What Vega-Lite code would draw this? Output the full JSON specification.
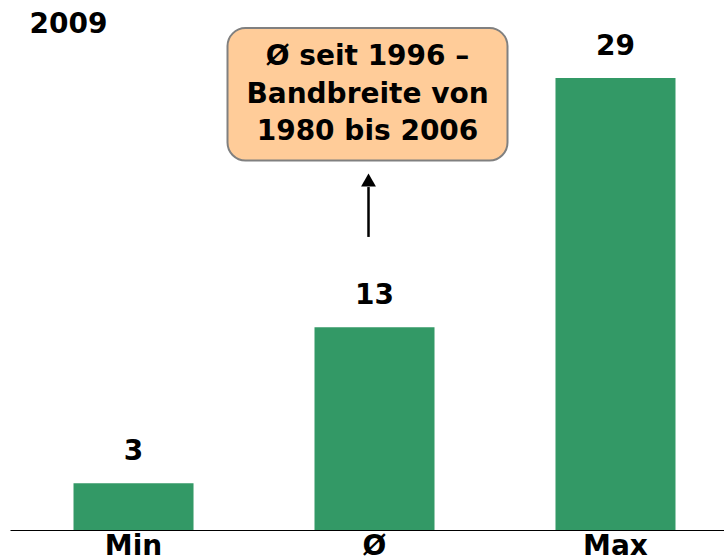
{
  "$schema": "https://vega.github.io/schema/vega-lite/v6.json",
  "autosize": {"type": "none"},
  "width": 714,
  "height": 530,
  "padding": {"left": 10, "top": 0, "right": 0, "bottom": 30},
  "background": "white",
  "config": {
    "view": {"stroke": null},
    "font": "DejaVu Sans",
    "text": {"font": "DejaVu Sans", "fontWeight": "bold", "fontSize": 28, "color": "black"}
  },
  "datasets": {
    "bars": [
      {"cat": "Min", "value": 3},
      {"cat": "Ø", "value": 13},
      {"cat": "Max", "value": 29}
    ],
    "note": [
      {"cat": "Ø", "top": 32.2, "bottom": 23.7}
    ],
    "noteLines": [
      {"cat": "Ø", "pos": 30.34, "line": "Ø seit 1996 –"},
      {"cat": "Ø", "pos": 27.9, "line": "Bandbreite von"},
      {"cat": "Ø", "pos": 25.53, "line": "1980 bis 2006"}
    ],
    "arrow": [
      {"cat": "Ø", "from": 18.8, "to": 22.0, "tip": 22.45}
    ],
    "year": [
      {"cat": "Min", "pos": 32.4, "label": "2009"}
    ]
  },
  "encoding": {
    "x": {
      "field": "cat",
      "type": "nominal",
      "sort": ["Min", "Ø", "Max"],
      "scale": {"paddingInner": 0.502, "paddingOuter": 0.2324, "align": 0.567},
      "axis": {
        "title": null,
        "ticks": false,
        "labelAngle": 0,
        "labelFont": "DejaVu Sans",
        "labelFontWeight": "bold",
        "labelFontSize": 28,
        "labelColor": "black",
        "labelPadding": 2,
        "labelBaseline": "top",
        "domainColor": "black",
        "domainWidth": 1.2,
        "grid": false
      }
    }
  },
  "layer": [
    {
      "data": {"name": "bars"},
      "mark": {"type": "bar", "color": "#339966"},
      "encoding": {
        "y": {"field": "value", "type": "quantitative", "scale": {"domain": [0, 34], "nice": false}, "axis": null}
      }
    },
    {
      "data": {"name": "bars"},
      "mark": {"type": "text", "baseline": "middle", "dy": -31},
      "encoding": {
        "y": {"field": "value", "type": "quantitative"},
        "text": {"field": "value", "type": "quantitative"}
      }
    },
    {
      "data": {"name": "note"},
      "mark": {"type": "bar", "width": 280, "xOffset": -7, "cornerRadius": 18, "fill": "#FFCC99", "stroke": "#808080", "strokeWidth": 2},
      "encoding": {
        "y": {"field": "top", "type": "quantitative"},
        "y2": {"field": "bottom"}
      }
    },
    {
      "data": {"name": "noteLines"},
      "mark": {"type": "text", "baseline": "middle", "xOffset": -7},
      "encoding": {
        "y": {"field": "pos", "type": "quantitative"},
        "text": {"field": "line", "type": "nominal"}
      }
    },
    {
      "data": {"name": "arrow"},
      "mark": {"type": "rule", "color": "black", "strokeWidth": 2.5, "xOffset": -6},
      "encoding": {
        "y": {"field": "from", "type": "quantitative"},
        "y2": {"field": "to"}
      }
    },
    {
      "data": {"name": "arrow"},
      "mark": {"type": "point", "shape": "triangle-up", "filled": true, "color": "black", "size": 220, "opacity": 1, "xOffset": -6},
      "encoding": {
        "y": {"field": "tip", "type": "quantitative"}
      }
    },
    {
      "data": {"name": "year"},
      "mark": {"type": "text", "align": "left", "baseline": "middle", "xOffset": -104},
      "encoding": {
        "y": {"field": "pos", "type": "quantitative"},
        "text": {"field": "label", "type": "nominal"}
      }
    }
  ]
}
